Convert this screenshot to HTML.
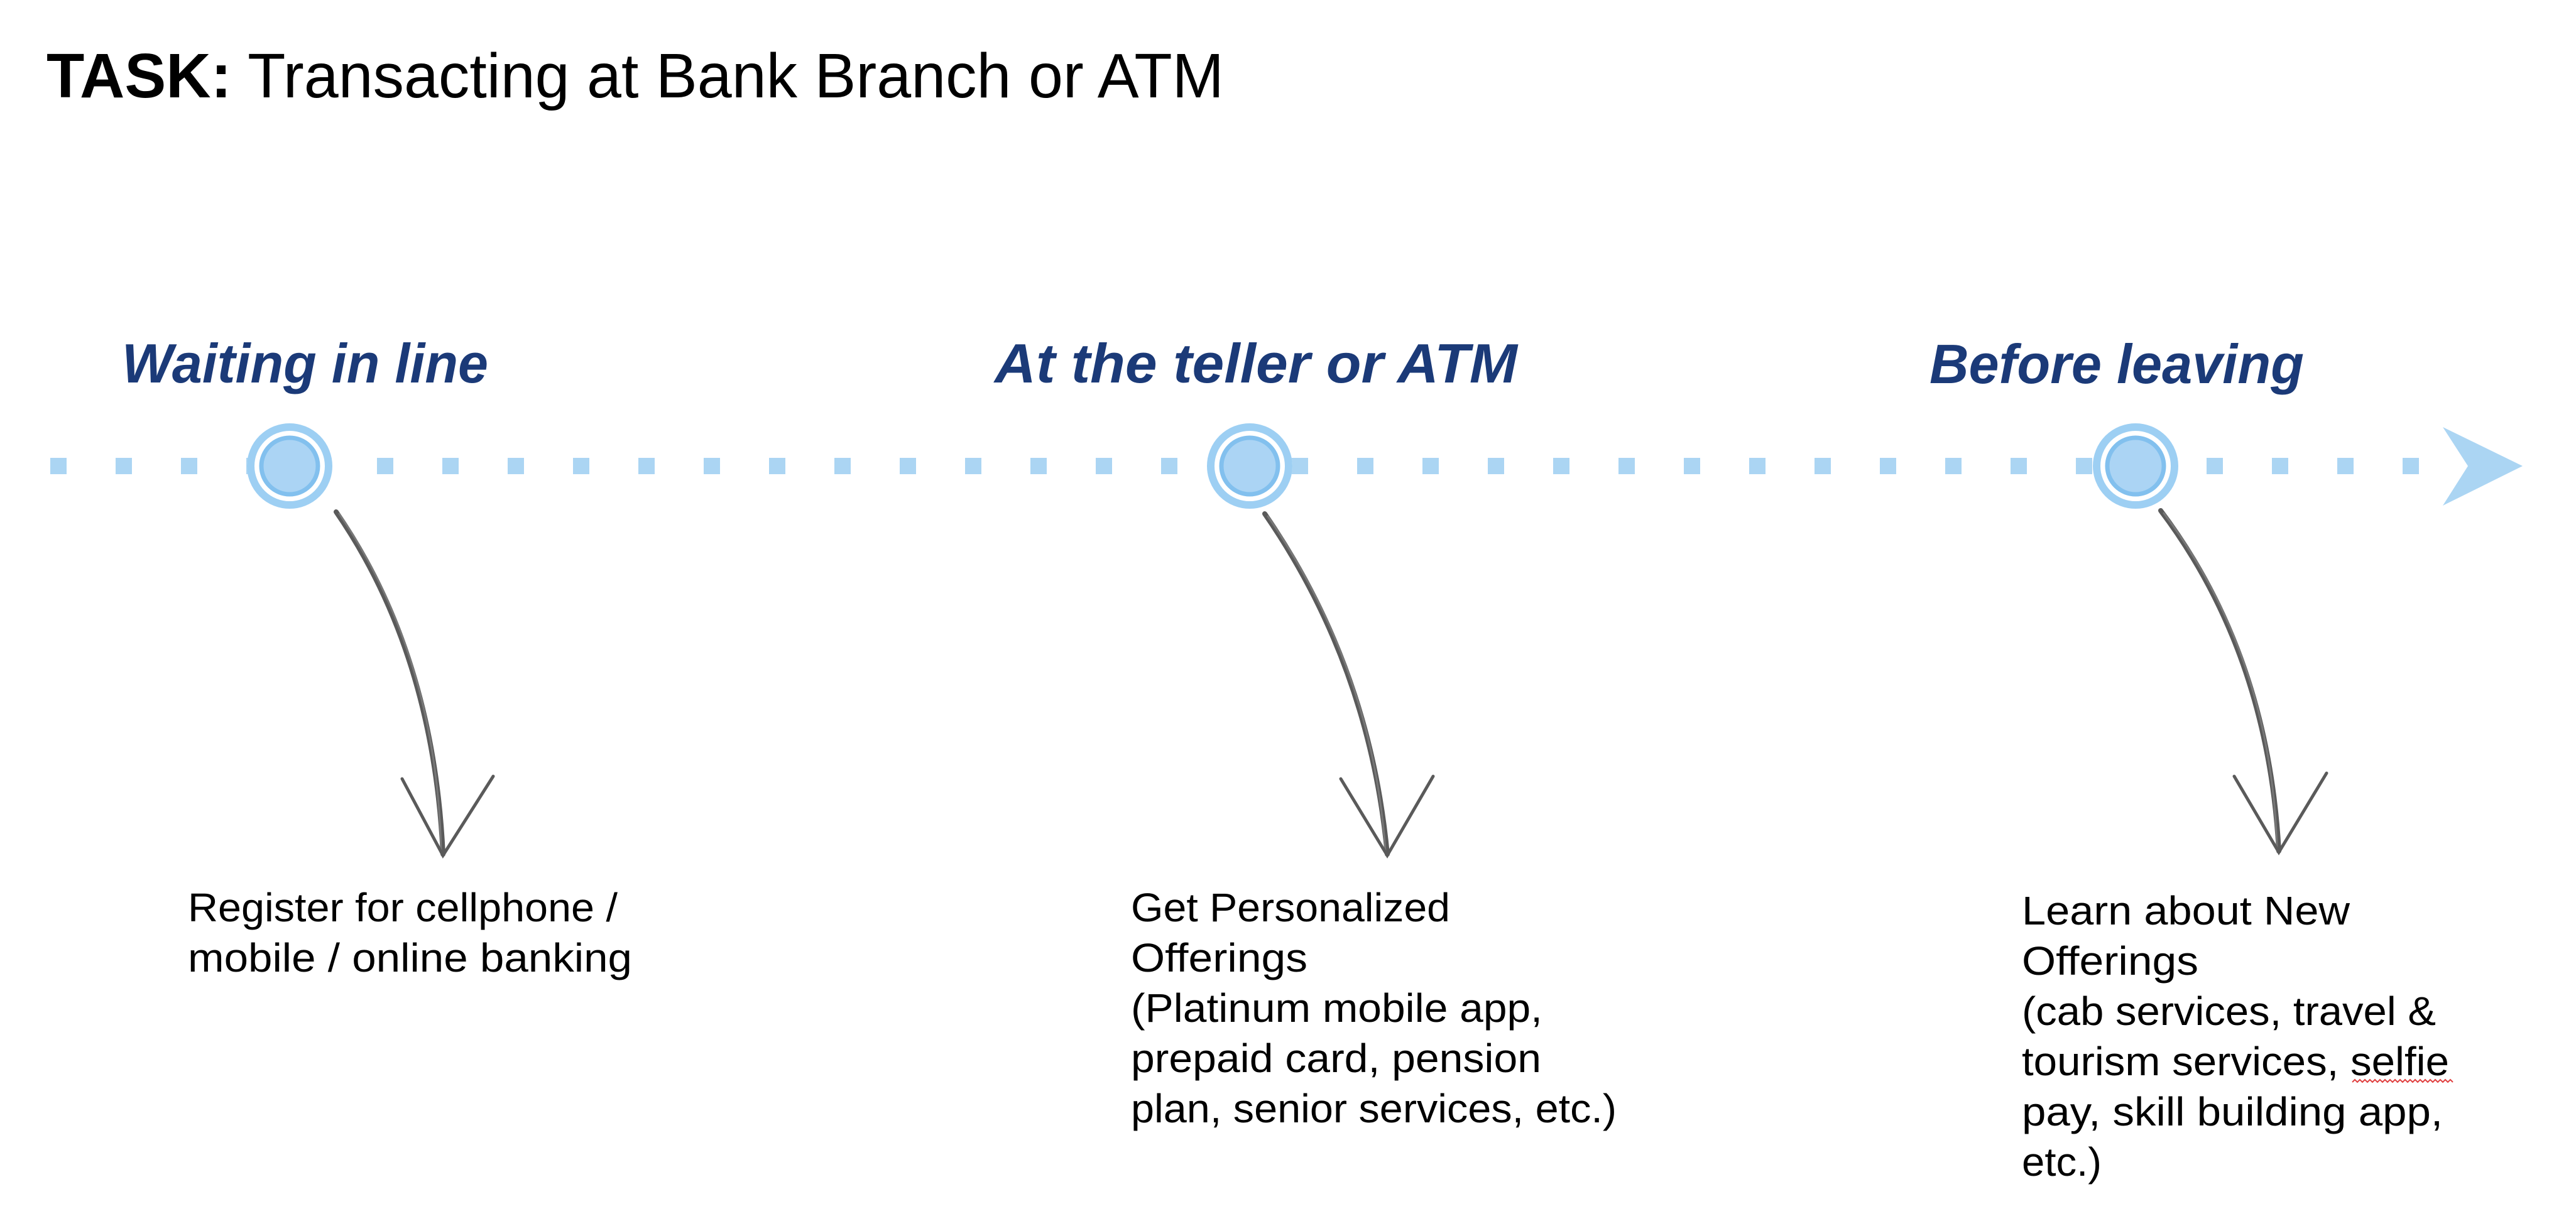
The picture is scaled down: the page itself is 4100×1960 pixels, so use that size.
<!DOCTYPE html>
<html><head><meta charset="utf-8"><style>
html,body{margin:0;padding:0;background:#fff;}
svg{display:block;}
</style></head><body>
<svg width="4100" height="1960" viewBox="0 0 4100 1960" xmlns="http://www.w3.org/2000/svg">
<rect width="4100" height="1960" fill="#fff"/>
<text x="74" y="155" font-family="Liberation Sans, sans-serif" font-size="100" fill="#000" textLength="1874" lengthAdjust="spacingAndGlyphs"><tspan font-weight="bold">TASK:</tspan> Transacting at Bank Branch or ATM</text>
<g font-family="Liberation Sans, sans-serif" font-size="88" font-weight="bold" font-style="italic" fill="#1b3a78">
<text x="194" y="609" textLength="583" lengthAdjust="spacingAndGlyphs">Waiting in line</text>
<text x="1583" y="609" textLength="832" lengthAdjust="spacingAndGlyphs">At the teller or ATM</text>
<text x="3071" y="610" textLength="596" lengthAdjust="spacingAndGlyphs">Before leaving</text>
</g>
<g fill="#abd5f3">
<rect x="80" y="729" width="26" height="26"/><rect x="184" y="729" width="26" height="26"/><rect x="288" y="729" width="26" height="26"/><rect x="392" y="729" width="26" height="26"/><rect x="496" y="729" width="26" height="26"/><rect x="600" y="729" width="26" height="26"/><rect x="704" y="729" width="26" height="26"/><rect x="808" y="729" width="26" height="26"/><rect x="912" y="729" width="26" height="26"/><rect x="1016" y="729" width="26" height="26"/><rect x="1120" y="729" width="26" height="26"/><rect x="1224" y="729" width="26" height="26"/><rect x="1328" y="729" width="26" height="26"/><rect x="1432" y="729" width="26" height="26"/><rect x="1536" y="729" width="26" height="26"/><rect x="1640" y="729" width="26" height="26"/><rect x="1744" y="729" width="26" height="26"/><rect x="1848" y="729" width="26" height="26"/><rect x="1952" y="729" width="26" height="26"/><rect x="2056" y="729" width="26" height="26"/><rect x="2160" y="729" width="26" height="26"/><rect x="2264" y="729" width="26" height="26"/><rect x="2368" y="729" width="26" height="26"/><rect x="2472" y="729" width="26" height="26"/><rect x="2576" y="729" width="26" height="26"/><rect x="2680" y="729" width="26" height="26"/><rect x="2784" y="729" width="26" height="26"/><rect x="2888" y="729" width="26" height="26"/><rect x="2992" y="729" width="26" height="26"/><rect x="3096" y="729" width="26" height="26"/><rect x="3200" y="729" width="26" height="26"/><rect x="3304" y="729" width="26" height="26"/><rect x="3408" y="729" width="26" height="26"/><rect x="3512" y="729" width="26" height="26"/><rect x="3616" y="729" width="26" height="26"/><rect x="3720" y="729" width="26" height="26"/><rect x="3824" y="729" width="26" height="26"/>
</g>
<polygon points="3888,680 4015,742 3888,805 3928,742" fill="#abd5f3"/>
<g>
<g transform="translate(461,742)">
<circle r="68" fill="#fff"/><circle r="62" fill="none" stroke="#9dcff3" stroke-width="12"/>
<circle r="45" fill="#abd4f4" stroke="#82c0ee" stroke-width="7"/></g>
<g transform="translate(1989,742)">
<circle r="68" fill="#fff"/><circle r="62" fill="none" stroke="#9dcff3" stroke-width="12"/>
<circle r="45" fill="#abd4f4" stroke="#82c0ee" stroke-width="7"/></g>
<g transform="translate(3399,742)">
<circle r="68" fill="#fff"/><circle r="62" fill="none" stroke="#9dcff3" stroke-width="12"/>
<circle r="45" fill="#abd4f4" stroke="#82c0ee" stroke-width="7"/></g>
</g>
<g fill="none" stroke="#5a5a5a" stroke-linecap="round">
<path d="M535,815 Q690,1040 705,1360" stroke-width="8"/>
<path d="M540,818 Q695,1045 702,1355" stroke-width="3" stroke="#777"/>
<path d="M640,1240 L705,1362 L785,1236" stroke-width="5"/>
<path d="M2013,818 Q2180,1060 2208,1360" stroke-width="8"/>
<path d="M2018,822 Q2185,1065 2205,1355" stroke-width="3" stroke="#777"/>
<path d="M2134,1240 L2208,1362 L2281,1236" stroke-width="5"/>
<path d="M3439,813 Q3610,1040 3627,1355" stroke-width="8"/>
<path d="M3444,817 Q3615,1045 3624,1350" stroke-width="3" stroke="#777"/>
<path d="M3556,1236 L3627,1357 L3703,1231" stroke-width="5"/>
</g>
<g font-family="Liberation Sans, sans-serif" font-size="64" fill="#000">
<text x="299" y="1467" textLength="684" lengthAdjust="spacingAndGlyphs">Register for cellphone /</text>
<text x="299" y="1547" textLength="707" lengthAdjust="spacingAndGlyphs">mobile / online banking</text>
<text x="1800" y="1467" textLength="508" lengthAdjust="spacingAndGlyphs">Get Personalized</text>
<text x="1800" y="1547" textLength="281" lengthAdjust="spacingAndGlyphs">Offerings</text>
<text x="1800" y="1627" textLength="655" lengthAdjust="spacingAndGlyphs">(Platinum mobile app,</text>
<text x="1800" y="1707" textLength="653" lengthAdjust="spacingAndGlyphs">prepaid card, pension</text>
<text x="1800" y="1787" textLength="773" lengthAdjust="spacingAndGlyphs">plan, senior services, etc.)</text>
<text x="3218" y="1472" textLength="522" lengthAdjust="spacingAndGlyphs">Learn about New</text>
<text x="3218" y="1552" textLength="281" lengthAdjust="spacingAndGlyphs">Offerings</text>
<text x="3218" y="1632" textLength="659" lengthAdjust="spacingAndGlyphs">(cab services, travel &amp;</text>
<text x="3218" y="1712" textLength="680" lengthAdjust="spacingAndGlyphs">tourism services, selfie</text>
<text x="3218" y="1792" textLength="670" lengthAdjust="spacingAndGlyphs">pay, skill building app,</text>
<text x="3218" y="1872" textLength="127" lengthAdjust="spacingAndGlyphs">etc.)</text>
</g>
<path d="M3744,1723 l4,-4 l4,4 l4,-4 l4,4 l4,-4 l4,4 l4,-4 l4,4 l4,-4 l4,4 l4,-4 l4,4 l4,-4 l4,4 l4,-4 l4,4 l4,-4 l4,4 l4,-4 l4,4 l4,-4 l4,4 l4,-4 l4,4 l4,-4 l4,4 l4,-4 l4,4 l4,-4 l4,4 l4,-4 l4,4 l4,-4 l4,4 l4,-4 l4,4 l4,-4 l4,4 l4,-4 l4,4" fill="none" stroke="#e04040" stroke-width="2"/>
</svg>
</body></html>
